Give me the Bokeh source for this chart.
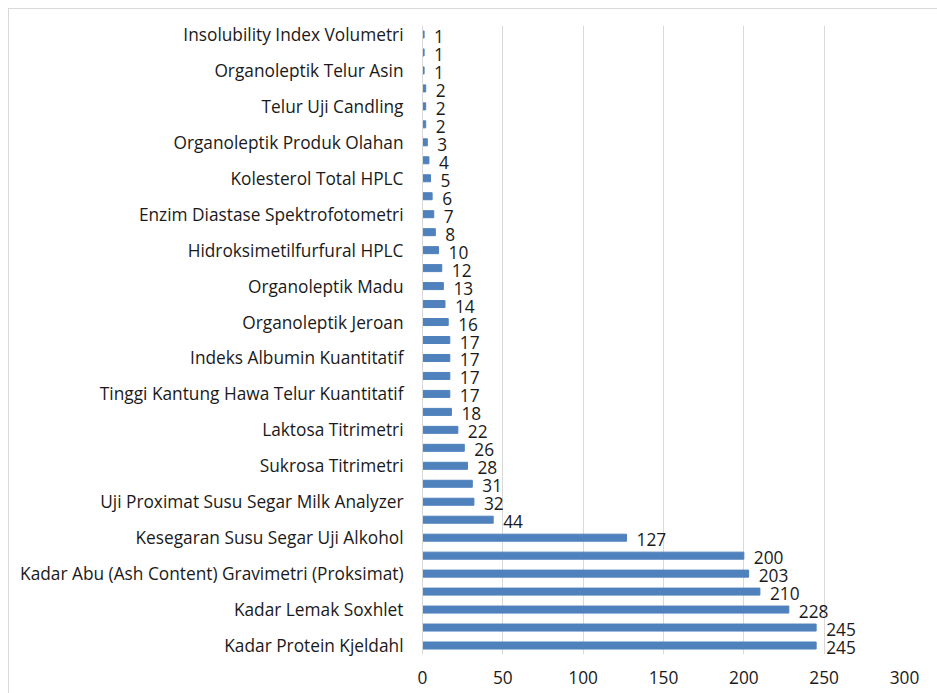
from bokeh.plotting import figure
from bokeh.models import Range1d, FixedTicker, ColumnDataSource
from bokeh.embed import file_html
from bokeh.resources import INLINE
from bokeh.core.properties import value

# bottom-to-top order (as drawn from bottom of chart upward)
categories = [
    "Kadar Protein Kjeldahl", "",
    "Kadar Lemak Soxhlet", "",
    "Kadar Abu (Ash Content) Gravimetri (Proksimat)", "",
    "Kesegaran Susu Segar Uji Alkohol", "",
    "Uji Proximat Susu Segar Milk Analyzer", "",
    "Sukrosa Titrimetri", "",
    "Laktosa Titrimetri", "",
    "Tinggi Kantung Hawa Telur Kuantitatif", "",
    "Indeks Albumin Kuantitatif", "",
    "Organoleptik Jeroan", "",
    "Organoleptik Madu", "",
    "Hidroksimetilfurfural HPLC", "",
    "Enzim Diastase Spektrofotometri", "",
    "Kolesterol Total HPLC", "",
    "Organoleptik Produk Olahan", "",
    "Telur Uji Candling", "",
    "Organoleptik Telur Asin", "",
    "Insolubility Index Volumetri",
]
counts = [245, 245, 228, 210, 203, 200, 127, 44, 32, 31, 28, 26, 22, 18,
          17, 17, 17, 17, 16, 14, 13, 12, 10, 8, 7, 6, 5, 4, 3, 2, 2, 2, 1, 1, 1]
x_ticks = [0, 50, 100, 150, 200, 250, 300]

pos = list(range(len(counts)))
src = ColumnDataSource(dict(y=pos, v=counts, lab=[str(c) for c in counts]))

FONT = "Open Sans"
FS = "17.3px"

p = figure(width=935, height=695, output_backend="svg", toolbar_location=None,
           x_range=Range1d(0, 300), y_range=Range1d(-0.5, len(counts) - 0.5),
           min_border_left=413, min_border_right=40, min_border_top=16, min_border_bottom=50)
p.outline_line_color = None
p.border_fill_color = "white"
p.styles = {"margin-left": "8px", "margin-top": "8px", "border": "1px solid #D9D9D9"}

p.hbar(y="y", right="v", left=0, height=0.39, source=src, color="#4F81BD")
p.text(x="v", y="y", text="lab", source=src, x_offset=10, y_offset=2,
       text_align="left", text_baseline="middle", text_font=value(FONT),
       text_font_size=FS, text_color="#1a1a1a")

# axes
p.yaxis.ticker = FixedTicker(ticks=pos)
p.yaxis.major_label_overrides = {i: c for i, c in enumerate(categories)}
p.yaxis.major_tick_line_color = None
p.yaxis.minor_tick_line_color = None
p.yaxis.axis_line_color = "#D9D9D9"
p.yaxis.major_label_text_font = FONT
p.yaxis.major_label_text_font_size = FS
p.yaxis.major_label_text_color = "#1a1a1a"
p.yaxis.major_label_standoff = 13

p.xaxis.ticker = FixedTicker(ticks=x_ticks)
p.xaxis.axis_line_color = None
p.xaxis.major_tick_line_color = None
p.xaxis.minor_tick_line_color = None
p.xaxis.major_label_text_font = FONT
p.xaxis.major_label_text_font_size = FS
p.xaxis.major_label_text_color = "#1a1a1a"
p.xaxis.major_label_standoff = 10

p.ygrid.grid_line_color = None
p.xgrid.grid_line_color = "#D9D9D9"
p.xgrid.grid_line_width = 1

open("out.html", "w").write(file_html(p, INLINE))
